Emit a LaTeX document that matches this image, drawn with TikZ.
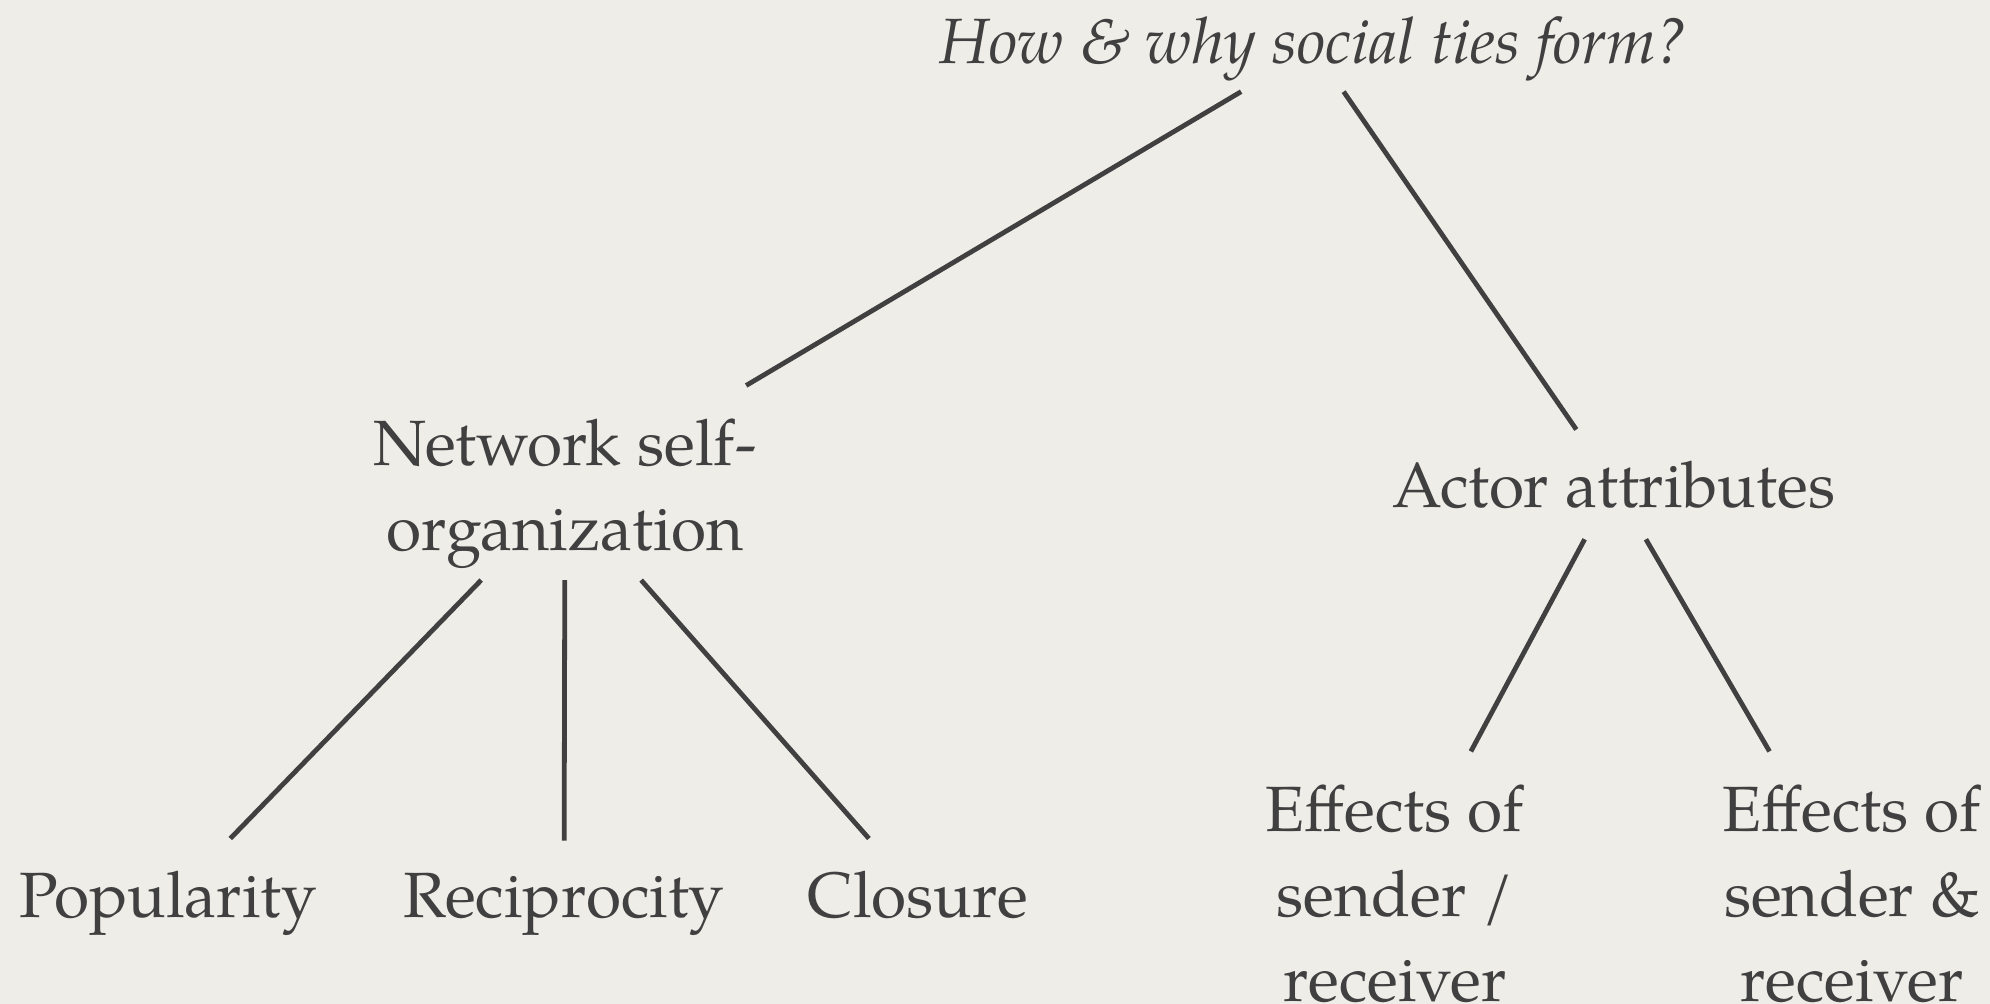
\documentclass[tikz,border=0pt]{standalone}
\usepackage{fontspec}
\setmainfont{TeX Gyre Pagella}
\definecolor{bg}{HTML}{EFEDE8}
\definecolor{ink}{HTML}{404040}
\begin{document}
\begin{tikzpicture}[x=1pt,y=-1pt,
  lbl/.style={font=\fontsize{64}{85}\selectfont, text=ink, inner sep=0pt, align=center, anchor=base},
  ttl/.style={font=\fontsize{64}{80}\selectfont\itshape, text=ink, inner sep=0pt, anchor=base, outer sep=11pt},
  link/.style={draw=ink, line width=4.8pt}]
\fill[bg] (0,0) rectangle (1990,1004);
\useasboundingbox (0,0) rectangle (1990,1004);
\node[ttl] (root) at (1314,63) {How \& why social ties form?};
\node[lbl, outer sep=12pt] (net) at (565,550) {Network self-\\organization};
\node[lbl, outer sep=31pt] (act) at (1614,507) {Actor attributes};
\node[lbl, outer sep=32pt] (pop) at (168,917) {Popularity};
\node[lbl, outer sep=32pt] (rec) at (564,917) {Reciprocity};
\node[lbl, outer sep=32pt] (clo) at (918,917) {Closure};
\node[lbl, outer sep=33pt] (eff1) at (1395,1001) {Effects of\\sender /\\receiver};
\node[lbl, outer sep=33pt] (eff2) at (1852,1001) {Effects of\\sender \&\\receiver};
\draw[link, shorten >=41pt] (root) -- (net);
\draw[link] (root) -- (act);
\draw[link] (net) -- (pop);
\draw[link] (net) -- (rec);
\draw[link] (net) -- (clo);
\draw[link] (act) -- (eff1);
\draw[link] (act) -- (eff2);
\end{tikzpicture}
\end{document}
